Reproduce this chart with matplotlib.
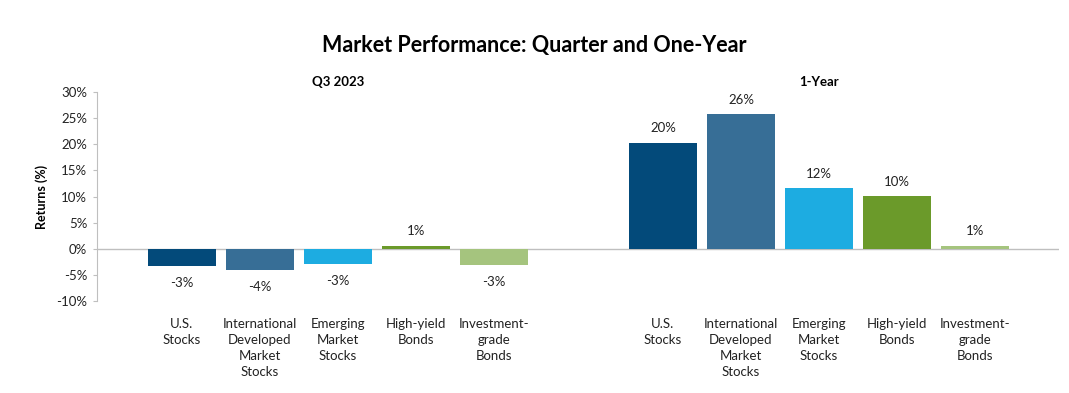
import matplotlib
matplotlib.use("Agg")
from matplotlib import pyplot as plt

plt.rcParams['font.family'] = ['Lato', 'DejaVu Sans']

categories = ["U.S.\nStocks", "International\nDeveloped\nMarket\nStocks",
              "Emerging\nMarket\nStocks", "High-yield\nBonds",
              "Investment-\ngrade\nBonds"]
q3_2023 = [-3.3, -4.0, -2.9, 0.6, -3.1]
one_year = [20.3, 25.8, 11.6, 10.1, 0.6]
q3_labels = ["-3%", "-4%", "-3%", "1%", "-3%"]
one_year_labels = ["20%", "26%", "12%", "10%", "1%"]
colors = ["#034a7a", "#376e96", "#1dace1", "#6b9a2a", "#a5c47e"]

fig = plt.figure(figsize=(10.69, 3.93), dpi=100)
ax = fig.add_axes([0.0907, 0.234, 0.9, 0.532])

x_left = [0, 1, 2, 3, 4]
x_right = [i + 6.17 for i in x_left]
width = 0.87

for xs, vals, labs in [(x_left, q3_2023, q3_labels), (x_right, one_year, one_year_labels)]:
    ax.bar(xs, vals, width=width, color=colors, zorder=2)
    for x, v, lab in zip(xs, vals, labs):
        if v < 0:
            ax.annotate(lab, (x, v), xytext=(0, -8), textcoords="offset points",
                        ha="center", va="top", fontsize=9.5, color="#222222")
        else:
            ax.annotate(lab, (x, v), xytext=(0, 6), textcoords="offset points",
                        ha="center", va="bottom", fontsize=9.5, color="#222222")

ax.axhline(0, color="#bfbfbf", lw=1, zorder=1)
ax.set_xlim(-1.09, 11.25)
ax.set_ylim(-10, 30)
ax.set_yticks(range(-10, 31, 5))
ax.set_yticklabels([f"{t}%" for t in range(-10, 31, 5)], fontsize=9.5, color="#222222")
ax.set_xticks(x_left + x_right)
ax.set_xticklabels(categories * 2, fontsize=9.5, color="#222222", linespacing=1.4, va="top")
ax.tick_params(axis="x", length=0, pad=12)
ax.tick_params(axis="y", length=3, color="#bfbfbf", pad=4)
for s in ["top", "right", "bottom"]:
    ax.spines[s].set_visible(False)
ax.spines["left"].set_color("#bfbfbf")
ax.set_ylabel("Returns (%)", fontsize=9, fontweight="bold", labelpad=6)

ax.text(2, 1.02, "Q3 2023", transform=ax.get_xaxis_transform(), ha="center",
        va="bottom", fontsize=9.5, fontweight="bold")
ax.text(8.17, 1.02, "1-Year", transform=ax.get_xaxis_transform(), ha="center",
        va="bottom", fontsize=9.5, fontweight="bold")
fig.text(0.5, 0.883, "Market Performance: Quarter and One-Year", ha="center",
         va="center", fontsize=15.5, fontweight="bold")

fig.savefig("out.png", dpi=100)
